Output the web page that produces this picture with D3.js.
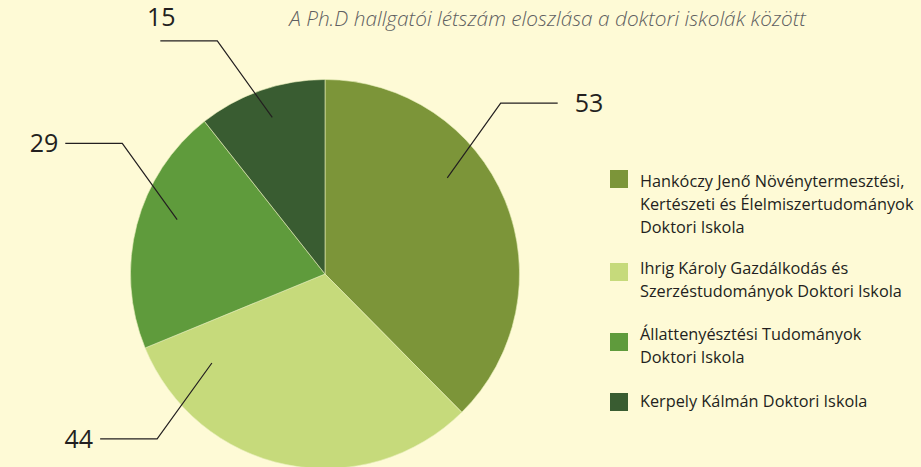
<!DOCTYPE html>
<html>
<head>
<meta charset="utf-8">
<script src="https://cdn.jsdelivr.net/npm/d3@7"></script>
<style>
  body { margin: 0; background: #fefad6; }
  svg { display: block; }
  text { font-family: 'Open Sans', 'Noto Sans', sans-serif; fill: #231f20; }
</style>
</head>
<body>
<div id="chart"></div>
<script>
// data
const schools = [
  ['Hankóczy Jenő Növénytermesztési,', 'Kertészeti és Élelmiszertudományok', 'Doktori Iskola'],
  ['Ihrig Károly Gazdálkodás és', 'Szerzéstudományok Doktori Iskola'],
  ['Állattenyésztési Tudományok', 'Doktori Iskola'],
  ['Kerpely Kálmán Doktori Iskola']
]
const students = [53, 44, 29, 15]
const colors = ['#7c9539', '#c6da7b', '#5f9b3c', '#395c31']
const title = 'A Ph.D hallgatói létszám eloszlása a doktori iskolák között'

// leader layout (degrees from top clockwise, radius as share of pie radius)
const leaderIn = [[51.8, 0.80], [231.8, 0.74], [290.2, 0.81], [341.4, 0.85]]
const leaderElbow = [[45.8, 1.26], [225.5, 1.21], [302.8, 1.24], [335.2, 1.32]]
const leaderLen = [57, -57, -57, -57]

const width = 921
const height = 467
const cx = 325
const cy = 274
const radius = 194.5

const svg = d3.select('#chart')
  .append('svg')
  .attr('width', width)
  .attr('height', height)

svg.append('rect').attr('width', width).attr('height', height).attr('fill', '#fefad6')

svg.append('text')
  .text(title)
  .attr('x', 806)
  .attr('y', 26)
  .attr('text-anchor', 'end')
  .attr('font-style', 'italic')
  .attr('font-weight', 300)
  .attr('font-size', '20.8px')
  .style('fill', '#5e5f61')

const pie = d3.pie().sort(null).value(d => d)
const arc = d3.arc().innerRadius(0).outerRadius(radius)

const g = svg.append('g').attr('transform', 'translate(' + cx + ',' + cy + ')')

g.selectAll('path')
  .data(pie(students))
  .enter()
  .append('path')
  .attr('d', arc)
  .attr('fill', (d, i) => colors[i])
  .attr('stroke', '#e8eebb')
  .attr('stroke-width', 0.6)

const rad = a => a * Math.PI / 180

students.forEach(function(v, i) {
  const p1 = d3.pointRadial(rad(leaderIn[i][0]), leaderIn[i][1] * radius)
  const p2 = d3.pointRadial(rad(leaderElbow[i][0]), leaderElbow[i][1] * radius)
  const p3 = [p2[0] + leaderLen[i], p2[1]]
  g.append('path')
    .attr('d', d3.line()([p1, p2, p3]))
    .attr('fill', 'none')
    .attr('stroke', '#231f20')
    .attr('stroke-width', 1.2)
  const lbl = g.append('text')
    .text(v)
    .attr('font-size', '25px')
  if (i === 3) {
    // 15 sits above its line
    lbl.attr('x', p3[0] + 1).attr('y', p3[1] - 15).attr('text-anchor', 'middle')
  } else if (leaderLen[i] > 0) {
    lbl.attr('x', p3[0] + 17).attr('y', p3[1] + 9)
  } else {
    lbl.attr('x', p3[0] - 7).attr('y', p3[1] + 9).attr('text-anchor', 'end')
  }
})

// legend
const legendTop = [170, 263, 333, 393]
const legendBase = [186.5, 274, 340, 406.5]
const legend = svg.append('g').attr('transform', 'translate(610,0)')
schools.forEach(function(lines, i) {
  legend.append('rect')
    .attr('x', 0)
    .attr('y', legendTop[i])
    .attr('width', 18)
    .attr('height', 18)
    .attr('fill', colors[i])
  const t = legend.append('text')
    .attr('x', 30)
    .attr('y', legendBase[i])
    .attr('font-size', '16.3px')
  lines.forEach(function(l, j) {
    t.append('tspan').attr('x', 30).attr('dy', j === 0 ? 0 : 23.3).text(l)
  })
})
</script>
</body>
</html>
